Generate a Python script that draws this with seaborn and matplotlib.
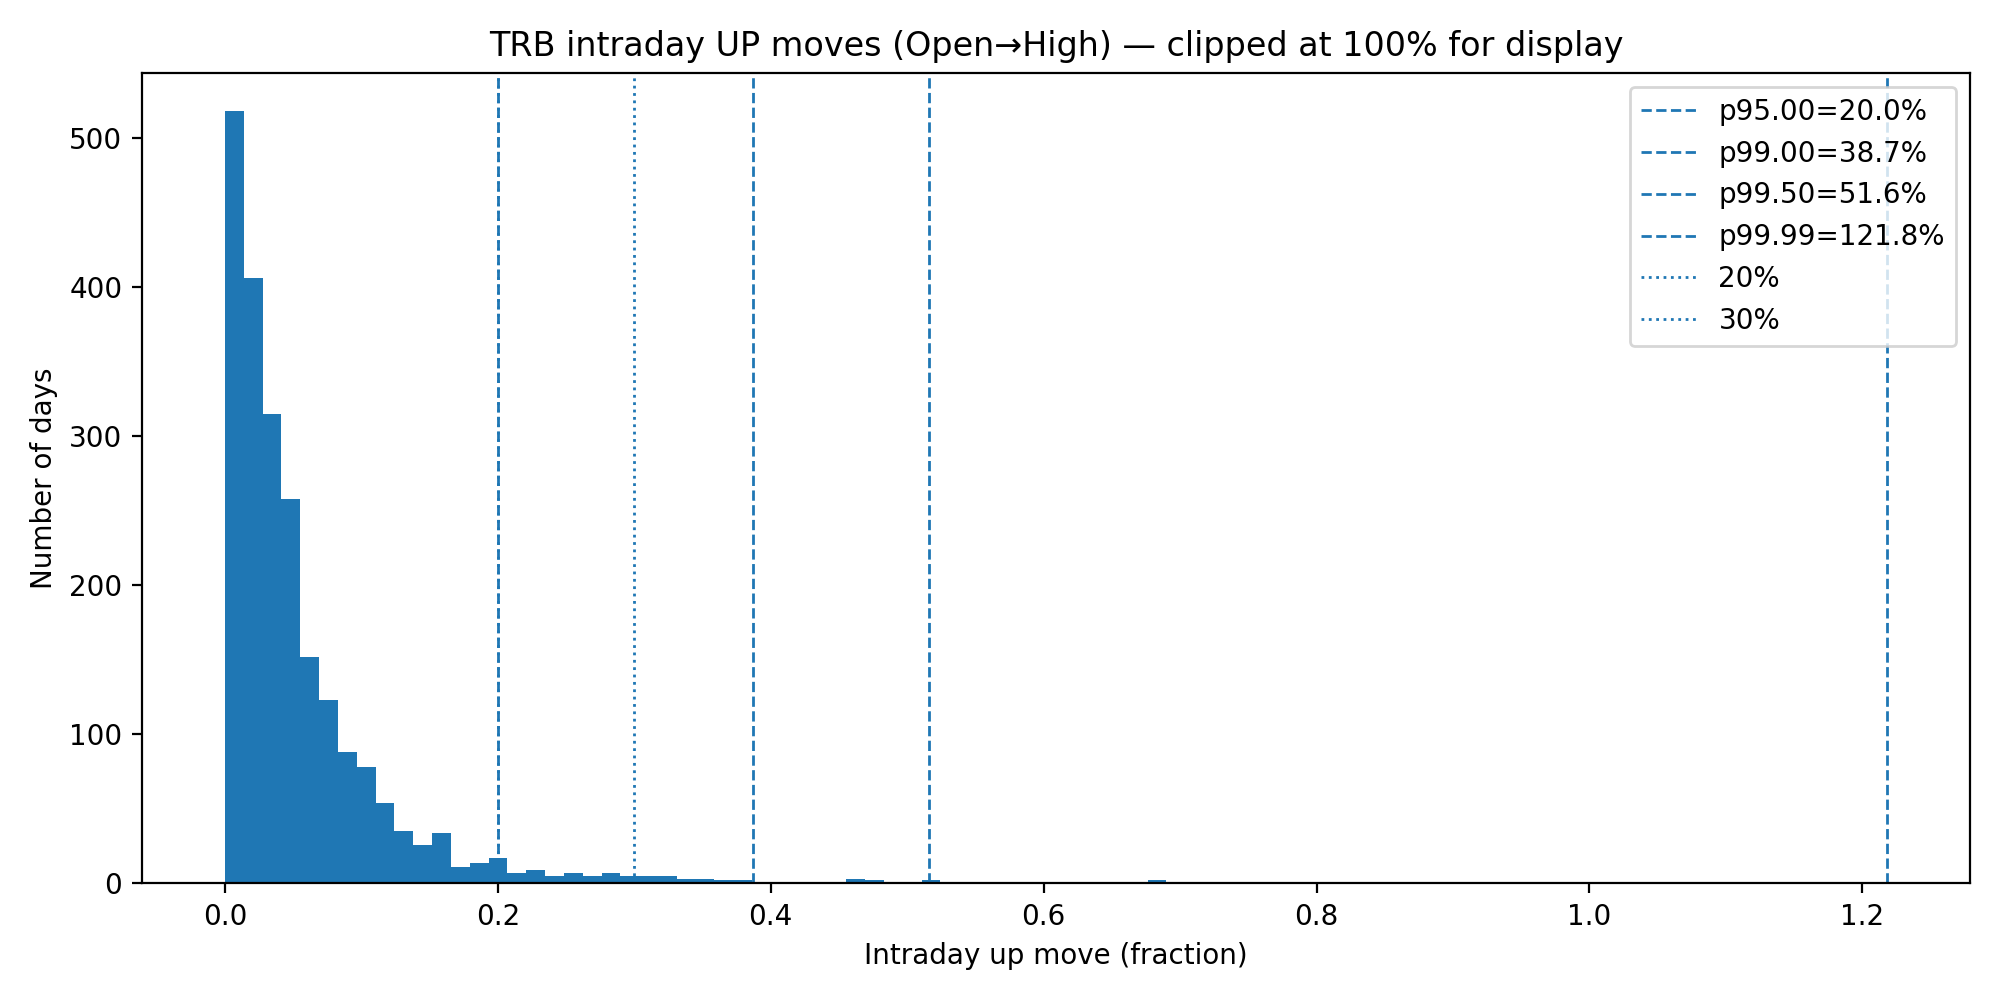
import numpy as np
import pandas as pd
import matplotlib
matplotlib.use("Agg")
import matplotlib.pyplot as plt
import seaborn as sns

n_bins = 50
x_max = 0.69
counts = [518, 406, 315, 258, 152, 123, 88, 78, 54, 35, 26, 34, 11, 14, 17,
          7, 9, 5, 7, 5, 7, 5, 5, 5, 3, 3, 2, 2, 0, 0, 0, 0, 0, 3, 2, 0, 0, 2,
          0, 0, 0, 0, 0, 0, 0, 0, 0, 0, 0, 2]
pct_labels = ["p95.00=20.0%", "p99.00=38.7%", "p99.50=51.6%", "p99.99=121.8%"]
pct_values = [0.200, 0.387, 0.516, 1.218]
thr_labels = ["20%", "30%"]
thr_values = [0.20, 0.30]

edges = np.linspace(0, x_max, n_bins + 1)
centers = (edges[:-1] + edges[1:]) / 2
df = pd.DataFrame({"x": centers, "w": counts})

fig, ax = plt.subplots(figsize=(10, 5), dpi=200)
sns.histplot(data=df, x="x", weights="w", bins=n_bins, binrange=(0, x_max), ax=ax,
             color="#1f77b4", alpha=1, edgecolor="none", linewidth=0)
for lab, v in zip(pct_labels, pct_values):
    ax.axvline(v, linestyle="--", linewidth=1, color="#1f77b4", label=lab)
for lab, v in zip(thr_labels, thr_values):
    ax.axvline(v, linestyle=":", linewidth=1, color="#1f77b4", label=lab)
ax.set_title("TRB intraday UP moves (Open→High) — clipped at 100% for display")
ax.set_xlabel("Intraday up move (fraction)")
ax.set_ylabel("Number of days")
ax.legend(loc="upper right")
fig.tight_layout()
fig.savefig("out.png")
